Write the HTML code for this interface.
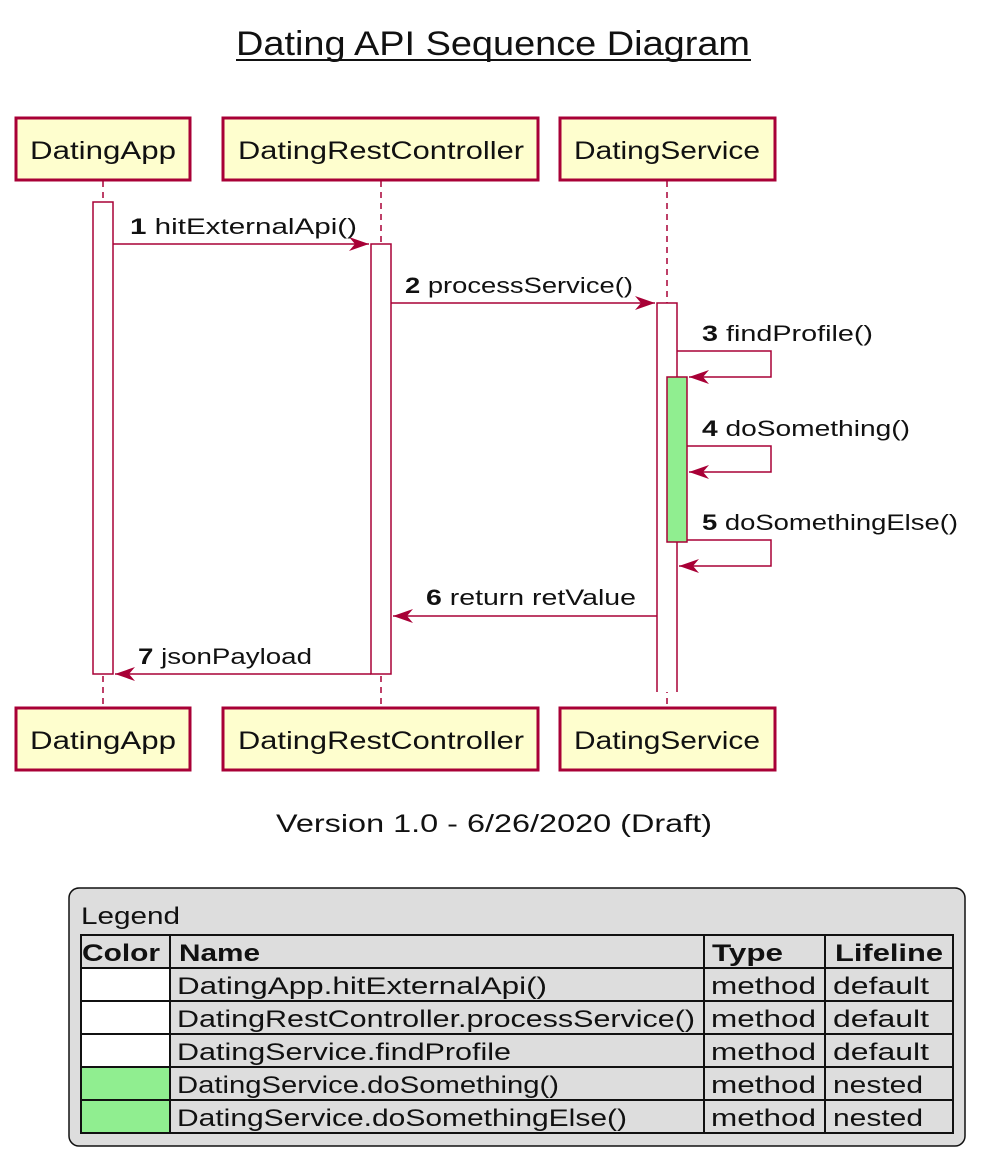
<!DOCTYPE html>
<html><head><meta charset="utf-8"><style>html,body{margin:0;padding:0;background:#fff}svg{display:block}</style></head>
<body>
<svg width="985" height="1166" viewBox="0 0 985 1166" xmlns="http://www.w3.org/2000/svg" font-family="Liberation Sans, sans-serif">
<defs>
<marker id="ah" markerWidth="24" markerHeight="14" refX="20" refY="7" orient="auto" markerUnits="userSpaceOnUse">
<path d="M0,0 L20,7 L0,14 L6,7 Z" fill="#A80036"/>
</marker>
</defs>
<text x="493" y="55" font-size="34" text-anchor="middle" textLength="514" lengthAdjust="spacingAndGlyphs" fill="#111">Dating API Sequence Diagram</text>
<line x1="236" y1="60" x2="751" y2="60" stroke="#111" stroke-width="2"/>

<g stroke="#A80036" stroke-width="1.5" stroke-dasharray="6,5">
<line x1="103" y1="181" x2="103" y2="707"/>
<line x1="381" y1="181" x2="381" y2="707"/>
<line x1="667" y1="181" x2="667" y2="707"/>
</g>

<g fill="#FEFECE" stroke="#A80036" stroke-width="3">
<rect x="16" y="118" width="174" height="62"/>
<rect x="223" y="118" width="315" height="62"/>
<rect x="560" y="118" width="215" height="62"/>
<rect x="16" y="708" width="174" height="62"/>
<rect x="223" y="708" width="315" height="62"/>
<rect x="560" y="708" width="215" height="62"/>
</g>
<g font-size="25" fill="#111" text-anchor="middle">
<text x="103" y="159" textLength="146" lengthAdjust="spacingAndGlyphs">DatingApp</text>
<text x="381" y="159" textLength="286" lengthAdjust="spacingAndGlyphs">DatingRestController</text>
<text x="667" y="159" textLength="186" lengthAdjust="spacingAndGlyphs">DatingService</text>
<text x="103" y="749" textLength="146" lengthAdjust="spacingAndGlyphs">DatingApp</text>
<text x="381" y="749" textLength="286" lengthAdjust="spacingAndGlyphs">DatingRestController</text>
<text x="667" y="749" textLength="186" lengthAdjust="spacingAndGlyphs">DatingService</text>
</g>

<g fill="#fff" stroke="#A80036" stroke-width="1.5">
<rect x="93" y="202" width="20" height="472"/>
<rect x="371" y="244" width="20" height="430"/>
</g>
<rect x="657" y="303" width="20" height="389" fill="#fff"/>
<polyline points="657,692 657,303 677,303 677,692" fill="none" stroke="#A80036" stroke-width="1.5"/>
<rect x="667" y="377" width="20" height="165" fill="#90EE90" stroke="#A80036" stroke-width="1.5"/>

<g stroke="#A80036" stroke-width="1.5" fill="none">
<line x1="113" y1="244" x2="369" y2="244" marker-end="url(#ah)"/>
<line x1="391" y1="303" x2="655" y2="303" marker-end="url(#ah)"/>
<polyline points="677,351 771,351 771,377 689,377" marker-end="url(#ah)"/>
<polyline points="687,446 771,446 771,472 689,472" marker-end="url(#ah)"/>
<polyline points="687,540 771,540 771,566 679,566" marker-end="url(#ah)"/>
<line x1="657" y1="616" x2="393" y2="616" marker-end="url(#ah)"/>
<line x1="371" y1="674" x2="115" y2="674" marker-end="url(#ah)"/>
</g>
<g font-size="22" fill="#111">
<text x="130" y="234" textLength="227" lengthAdjust="spacingAndGlyphs"><tspan font-weight="bold">1</tspan> hitExternalApi()</text>
<text x="405" y="293" textLength="228" lengthAdjust="spacingAndGlyphs"><tspan font-weight="bold">2</tspan> processService()</text>
<text x="702" y="341" textLength="171" lengthAdjust="spacingAndGlyphs"><tspan font-weight="bold">3</tspan> findProfile()</text>
<text x="702" y="436" textLength="208" lengthAdjust="spacingAndGlyphs"><tspan font-weight="bold">4</tspan> doSomething()</text>
<text x="702" y="530" textLength="256" lengthAdjust="spacingAndGlyphs"><tspan font-weight="bold">5</tspan> doSomethingElse()</text>
<text x="426" y="605" textLength="210" lengthAdjust="spacingAndGlyphs"><tspan font-weight="bold">6</tspan> return retValue</text>
<text x="138" y="664" textLength="174" lengthAdjust="spacingAndGlyphs"><tspan font-weight="bold">7</tspan> jsonPayload</text>
</g>

<text x="494" y="832" font-size="25" text-anchor="middle" textLength="436" lengthAdjust="spacingAndGlyphs" fill="#111">Version 1.0 - 6/26/2020 (Draft)</text>

<rect x="69" y="888" width="896" height="258" rx="10" ry="10" fill="#DDDDDD" stroke="#111" stroke-width="1.5"/>
<text x="81" y="924" font-size="24" fill="#111" textLength="99" lengthAdjust="spacingAndGlyphs">Legend</text>
<rect x="81" y="968" width="89" height="33" fill="#fff"/>
<rect x="81" y="1001" width="89" height="33" fill="#fff"/>
<rect x="81" y="1034" width="89" height="33" fill="#fff"/>
<rect x="81" y="1067" width="89" height="33" fill="#90EE90"/>
<rect x="81" y="1100" width="89" height="33" fill="#90EE90"/>
<g stroke="#111" stroke-width="2" fill="none">
<rect x="81" y="935" width="872" height="198"/>
<line x1="81" y1="968" x2="953" y2="968"/>
<line x1="81" y1="1001" x2="953" y2="1001"/>
<line x1="81" y1="1034" x2="953" y2="1034"/>
<line x1="81" y1="1067" x2="953" y2="1067"/>
<line x1="81" y1="1100" x2="953" y2="1100"/>
<line x1="170" y1="935" x2="170" y2="1133"/>
<line x1="704" y1="935" x2="704" y2="1133"/>
<line x1="825" y1="935" x2="825" y2="1133"/>
</g>
<g font-size="24" fill="#111">
<text x="82" y="961" font-weight="bold" textLength="78" lengthAdjust="spacingAndGlyphs">Color</text>
<text x="179" y="961" font-weight="bold" textLength="81" lengthAdjust="spacingAndGlyphs">Name</text>
<text x="712" y="961" font-weight="bold" textLength="71" lengthAdjust="spacingAndGlyphs">Type</text>
<text x="835" y="961" font-weight="bold" textLength="108" lengthAdjust="spacingAndGlyphs">Lifeline</text>
<text x="177" y="994" textLength="370" lengthAdjust="spacingAndGlyphs">DatingApp.hitExternalApi()</text>
<text x="177" y="1027" textLength="518" lengthAdjust="spacingAndGlyphs">DatingRestController.processService()</text>
<text x="177" y="1060" textLength="334" lengthAdjust="spacingAndGlyphs">DatingService.findProfile</text>
<text x="177" y="1093" textLength="382" lengthAdjust="spacingAndGlyphs">DatingService.doSomething()</text>
<text x="177" y="1126" textLength="450" lengthAdjust="spacingAndGlyphs">DatingService.doSomethingElse()</text>
<text x="711" y="994" textLength="105" lengthAdjust="spacingAndGlyphs">method</text>
<text x="711" y="1027" textLength="105" lengthAdjust="spacingAndGlyphs">method</text>
<text x="711" y="1060" textLength="105" lengthAdjust="spacingAndGlyphs">method</text>
<text x="711" y="1093" textLength="105" lengthAdjust="spacingAndGlyphs">method</text>
<text x="711" y="1126" textLength="105" lengthAdjust="spacingAndGlyphs">method</text>
<text x="833" y="994" textLength="96" lengthAdjust="spacingAndGlyphs">default</text>
<text x="833" y="1027" textLength="96" lengthAdjust="spacingAndGlyphs">default</text>
<text x="833" y="1060" textLength="96" lengthAdjust="spacingAndGlyphs">default</text>
<text x="833" y="1093" textLength="90" lengthAdjust="spacingAndGlyphs">nested</text>
<text x="833" y="1126" textLength="90" lengthAdjust="spacingAndGlyphs">nested</text>
</g>
</svg>
</body></html>
